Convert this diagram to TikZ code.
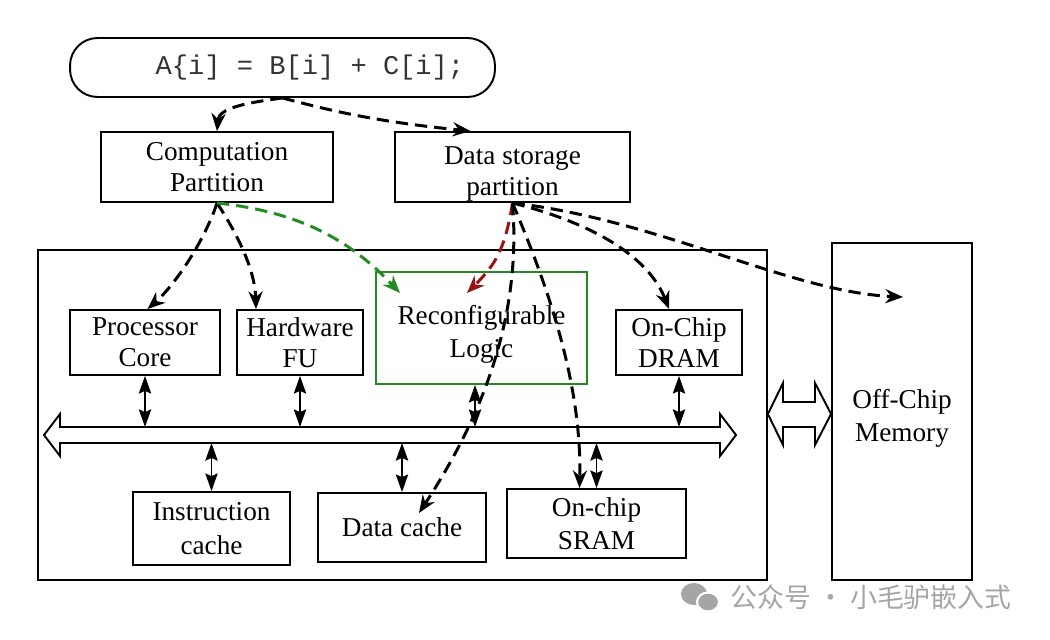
\documentclass[tikz,border=0pt]{standalone}
\usepackage{fontspec}
\setmainfont{Liberation Serif}
\setmonofont{Liberation Mono}
\newfontfamily\cjkfont{Noto Sans CJK SC}
\usetikzlibrary{arrows.meta}
\definecolor{logicgreen}{RGB}{34,139,34}
\definecolor{storered}{RGB}{150,20,20}
\definecolor{markgray}{RGB}{165,165,165}
\tikzset{
  blk/.style={draw, line width=1.1pt, align=center, inner sep=0pt,
    font=\fontsize{15.5}{17.8}\selectfont},
  flow/.style={line width=1.7pt, dash pattern=on 7pt off 4pt,
    -{Stealth[length=10pt,width=8pt]}},
  link/.style={line width=1.1pt,
    {Stealth[length=10pt,width=7pt,inset=1.5pt]}-{Stealth[length=10pt,width=7pt,inset=1.5pt]}},
  pipe/.style={draw, line width=1.1pt, fill=white, line join=miter},
}
\begin{document}
\begin{tikzpicture}[x=0.02cm, y=-0.02cm]
                \useasboundingbox (0,0) rectangle (1050,639);
                % program statement and the two partitions
                \node[blk, rounded corners=0.55cm, minimum width=8.5cm, minimum height=1.18cm,
                    font=\ttfamily\fontsize{15.4}{18}\selectfont, text=black!80]
                    (code) at (282.5,67.5) {\hspace*{1.1cm}A\{i] = B[i] + C[i];};
                \node[blk, minimum width=4.64cm, minimum height=1.4cm]
                    (comp) at (217,167) {Computation\\Partition};
                \node[blk, minimum width=4.7cm, minimum height=1.4cm]
                    (data) at (512.5,167) {\rule{0pt}{1.15em}Data storage\\partition};
                % chip and off-chip memory
                \node[blk, minimum width=14.58cm, minimum height=6.6cm] (chip) at (402.5,415) {};
                \node[blk, minimum width=2.8cm, minimum height=6.74cm,
                    font=\fontsize{15.5}{18.5}\selectfont]
                    (offchip) at (902,411.5) {\rule{0pt}{1.2em}Off-Chip\\Memory};
                % on-chip units
                \node[blk, minimum width=3cm, minimum height=1.3cm]
                    (pc) at (145,342.5) {Processor\\Core};
                \node[blk, minimum width=2.52cm, minimum height=1.3cm]
                    (fu) at (300,342.5) {Hardware\\FU};
                \node[blk, draw=logicgreen, minimum width=4.22cm, minimum height=2.24cm,
                    font=\fontsize{15.5}{19}\selectfont]
                    (recon) at (481.5,328) {\rule{0pt}{1.15em}Reconfigurable\\Logic};
                \node[blk, minimum width=2.52cm, minimum height=1.3cm]
                    (dram) at (679,342.5) {On-Chip\\DRAM};
                \node[blk, minimum width=3.14cm, minimum height=1.46cm,
                    font=\fontsize{15.5}{19}\selectfont]
                    (ic) at (211.5,528.5) {Instruction\\cache};
                \node[blk, minimum width=3.36cm, minimum height=1.38cm]
                    (dc) at (402,527.5) {Data cache};
                \node[blk, minimum width=3.58cm, minimum height=1.38cm,
                    font=\fontsize{15.5}{18.5}\selectfont]
                    (sram) at (596.5,523.5) {On-chip\\SRAM};
                % on-chip bus
                \draw[pipe] (44,435) -- (60,414) -- (60,427) -- (720,427) -- (720,414)
                    -- (736,435) -- (720,456) -- (720,443) -- (60,443) -- (60,456) -- cycle;
                \coordinate (busN) at (0,427);
                \coordinate (busS) at (0,443);
                % chip <-> off-chip memory
                \draw[pipe] (chip.east |- 0,414) -- (783,383) -- (783,402) -- (815,402) -- (815,383)
                    -- (offchip.west |- 0,414) -- (815,445) -- (815,427) -- (783,427) -- (783,445) -- cycle;
                % units to bus
                \draw[link] (pc.south) -- (pc.south |- busN);
                \draw[link] (fu.south) -- (fu.south |- busN);
                \draw[link] ([xshift=-0.13cm]recon.south) -- ([xshift=-0.13cm]recon.south |- busN);
                \draw[link] (dram.south) -- (dram.south |- busN);
                \draw[link] (ic.north) -- (ic.north |- busS);
                \draw[link] (dc.north) -- (dc.north |- busS);
                \draw[link] (sram.north) -- (sram.north |- busS);
                % partitioning
                \draw[flow] (code.south) .. controls (245,103) and (219,108) .. (comp.north);
                \draw[flow] (code.south) .. controls (335,112) and (380,122) .. ([xshift=-0.84cm]data.north);
                \draw[flow] (comp.south) .. controls (205,240) and (175,285) .. ([xshift=0.05cm]pc.north);
                \draw[flow] (comp.south) .. controls (238,235) and (255,270) .. ([xshift=-0.88cm]fu.north);
                \draw[flow, logicgreen] (comp.south) .. controls (300,212) and (350,240) .. (400,293);
                \draw[flow, storered] (data.south) .. controls (505,250) and (495,265) .. (467,293);
                \draw[flow] (data.south) .. controls (522,320) and (480,420) .. (419,513);
                \draw[flow] (data.south) .. controls (545,280) and (582,380) .. ([xshift=-0.34cm]sram.north);
                \draw[flow] (data.south) .. controls (600,225) and (650,260) .. ([xshift=-0.2cm]dram.north);
                \draw[flow] (data.south) .. controls (660,220) and (790,292) .. (903,297);
                % watermark
                \fill[markgray] (694,594) ellipse [x radius=13, y radius=11];
                \fill[markgray, draw=white, line width=1.2pt] (708,602) ellipse [x radius=11, y radius=9.5];
                \node[text=markgray, font=\cjkfont\fontsize{15.3}{18}\selectfont, inner sep=0pt]
                    (mark) at (871,597) {公众号 · 小毛驴嵌入式};
            \end{tikzpicture}
\end{document}
